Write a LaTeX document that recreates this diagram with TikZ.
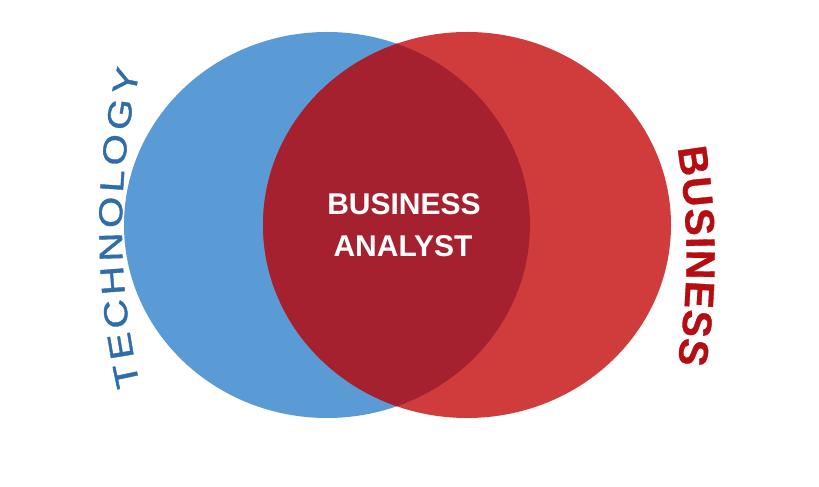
\documentclass[tikz,border=0pt]{standalone}
\usepackage{fontspec}
\setmainfont{Liberation Sans}
\newfontfamily\techfont[FakeStretch=1.22,FakeBold=1.2]{Liberation Sans}
\newfontfamily\busfont[FakeBold=0.8]{Liberation Sans Bold}
\usetikzlibrary{decorations.text,calc}
\definecolor{cblue}{HTML}{5B9BD5}
\definecolor{cred}{HTML}{D03B3C}
\definecolor{cdark}{HTML}{A62130}
\definecolor{tblue}{HTML}{2F6DAA}
\definecolor{tred}{HTML}{B50D12}
\tikzset{
  centertext/.style={text=white,font=\bfseries\fontsize{30}{30}\selectfont,anchor=base,inner sep=0pt},
}
\begin{document}
\begin{tikzpicture}[x=1pt,y=1pt]
\useasboundingbox (0,0) rectangle (819,487);
\fill[white] (0,0) rectangle (819,487);
% circles
\coordinate (bc) at (327,262);
\coordinate (rc) at (467,262);
\fill[cblue] (bc) ellipse [x radius=203pt, y radius=193pt];
\fill[cred] (rc) ellipse [x radius=204pt, y radius=193pt];
\begin{scope}
  \clip (bc) ellipse [x radius=203pt, y radius=193pt];
  \fill[cdark] (rc) ellipse [x radius=204pt, y radius=193pt];
\end{scope}
% centre text
\node[centertext] (t1) at (404,272) {BUSINESS};
\node[centertext] (t2) at (403,230) {ANALYST};
% TECHNOLOGY along arc
\coordinate (tc) at (822,259);
\path[decorate,decoration={text along path,text align=fit to path,
  text={|\techfont\fontsize{33}{33}\selectfont\color{tblue}|TECHNOLOGY}}]
  ($(tc)+(193:700pt)$) arc[start angle=193,end angle=167,radius=700pt];
% BUSINESS along arc
\coordinate (bcc) at (34.5,231);
\path[decorate,decoration={text along path,text align=fit to path,
  text={|\busfont\fontsize{41}{41}\selectfont\color{tred}|BUSINESS}}]
  ($(bcc)+(9.53:652pt)$) arc[start angle=9.53,end angle=-9.53,radius=652pt];
\end{tikzpicture}
\end{document}
